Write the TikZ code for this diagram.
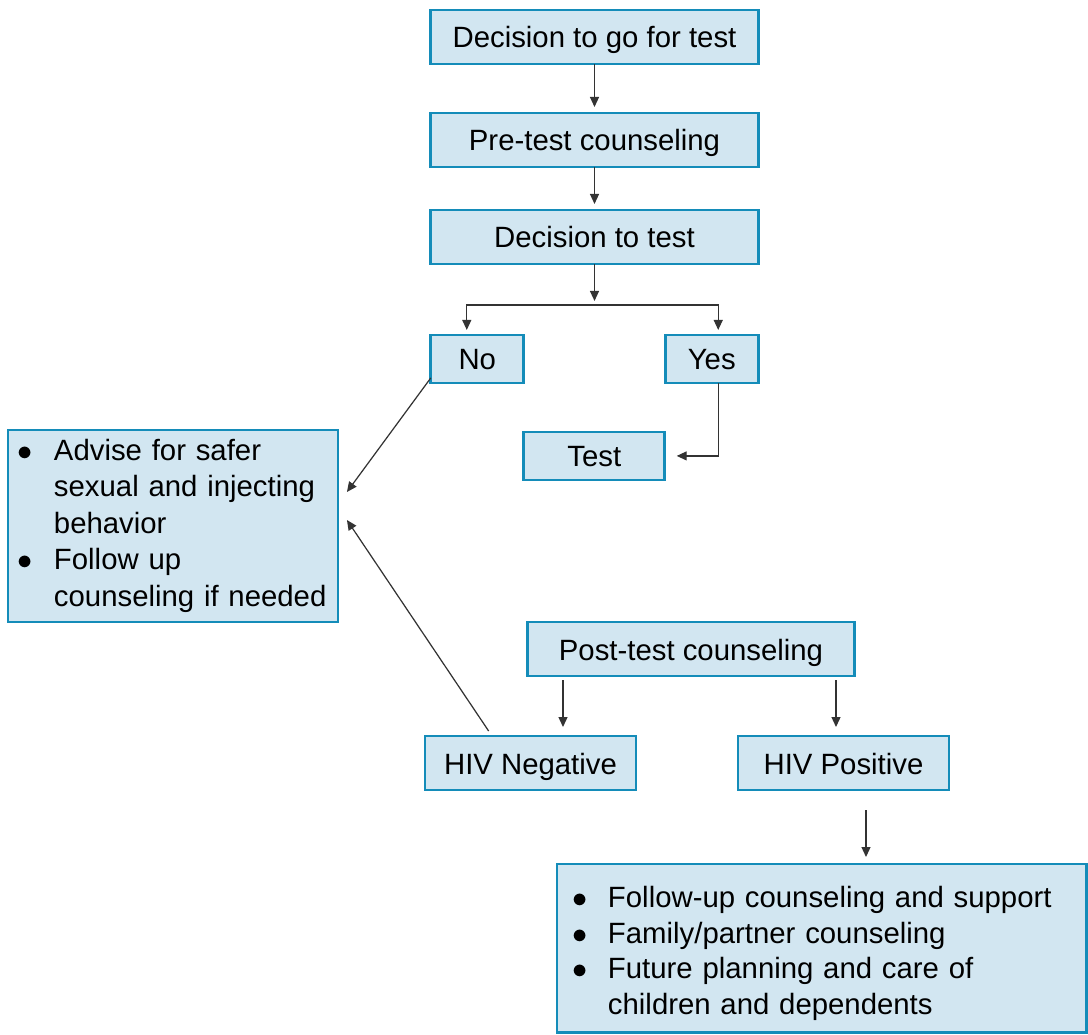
\documentclass[tikz,border=0pt]{standalone}
\usepackage{fontspec}
\setmainfont{Liberation Sans}
\usetikzlibrary{arrows.meta, positioning}

\definecolor{boxline}{RGB}{20,140,185}
\definecolor{boxfill}{RGB}{210,230,241}

\begin{document}
\begin{tikzpicture}[
  x=0.02cm, y=-0.02cm,
  >={Triangle[length=0.2cm, width=0.18cm]},
  font=\fontsize{16.7}{20.8}\selectfont,
  panel/.style={draw=boxline, fill=boxfill, line width=1.5pt, rectangle, inner sep=0pt, outer sep=0pt},
  box/.style={panel, minimum height=1.08cm, text height=0.46cm, text depth=0.02cm, align=center},
  wide/.style={box, minimum width=6.55cm},
  small/.style={box, minimum width=1.86cm, minimum height=0.96cm},
  result/.style={box, minimum width=4.22cm},
  list/.style={panel, align=left, anchor=north west},
  arr/.style={->, draw=black!80, line width=0.7pt}
]
  \useasboundingbox (0,0) rectangle (1088,1034);

  % Decision column
  \node[wide] (goTest) at (594.5,37) {Decision to go for test};
  \node[wide, below=0.98cm of goTest] (preTest) {Pre-test counseling};
  \node[wide, below=0.86cm of preTest] (decide) {Decision to test};
  \node[small, below=1.42cm of decide.south west, anchor=north west] (no) {No};
  \node[small, below=1.42cm of decide.south east, anchor=north east] (yes) {Yes};
  \node[small, minimum width=2.82cm, below=0.98cm of no.south east, anchor=north west] (test) {Test};
  \coordinate[below=0.82cm of decide.south] (split);

  % Advice box (left)
  \node[list, minimum width=6.6cm, minimum height=3.84cm, inner xsep=0.2cm, text width=6.2cm] (advise) at (8,430)
    {\begin{tabular}{@{}p{0.72cm}@{}l@{}}
      $\bullet$ & Advise for safer\\
                & sexual and injecting\\
                & behavior\\
      $\bullet$ & Follow up\\
                & counseling if needed
    \end{tabular}};

  % Results
  \node[wide] (post) at (691,649) {Post-test counseling};
  \node[result] (neg) at (530.5,763) {HIV Negative};
  \node[result] (pos) at (843.5,763) {HIV Positive};
  \node[list, minimum width=10.59cm, minimum height=3.37cm, inner xsep=0.3cm, text width=9.99cm,
        font=\fontsize{16.7}{20.3}\selectfont] (follow) at (557,864)
    {\begin{tabular}{@{}p{0.72cm}@{}l@{}}
      \rule{0pt}{0.72cm}$\bullet$ & Follow-up counseling and support\\
      $\bullet$ & Family/partner counseling\\
      $\bullet$ & Future planning and care of\\
                & children and dependents
    \end{tabular}};

  % Connectors
  \draw[arr, shorten >=0.12cm] (goTest) -- (preTest);
  \draw[arr, shorten >=0.12cm] (preTest) -- (decide);
  \draw[arr, shorten >=0.08cm] (decide) -- (split);
  \draw[arr, <->, shorten <=0.1cm, shorten >=0.1cm] ([xshift=-0.21cm]no.north) |- (split) -| ([xshift=0.13cm]yes.north);
  \draw[arr, shorten >=0.24cm] ([xshift=0.13cm]yes.south) |- (test.east);
  \draw[arr] ([yshift=0.1cm]no.south west) -- ([shift={(0.18cm,0.68cm)}]advise.east);
  \draw[arr, shorten <=0.12cm] ([xshift=-0.77cm]neg.north) -- ([shift={(0.18cm,0.12cm)}]advise.east);
  \draw[arr, shorten <=0.08cm, shorten >=0.18cm] ([xshift=0.65cm]neg.north |- post.south) -- ([xshift=0.65cm]neg.north);
  \draw[arr, shorten <=0.08cm, shorten >=0.18cm] ([xshift=-0.15cm]pos.north |- post.south) -- ([xshift=-0.15cm]pos.north);
  \draw[arr, shorten <=0.4cm, shorten >=0.14cm] ([xshift=0.45cm]pos.south) -- ([xshift=0.45cm]pos.south |- follow.north);

\end{tikzpicture}
\end{document}
